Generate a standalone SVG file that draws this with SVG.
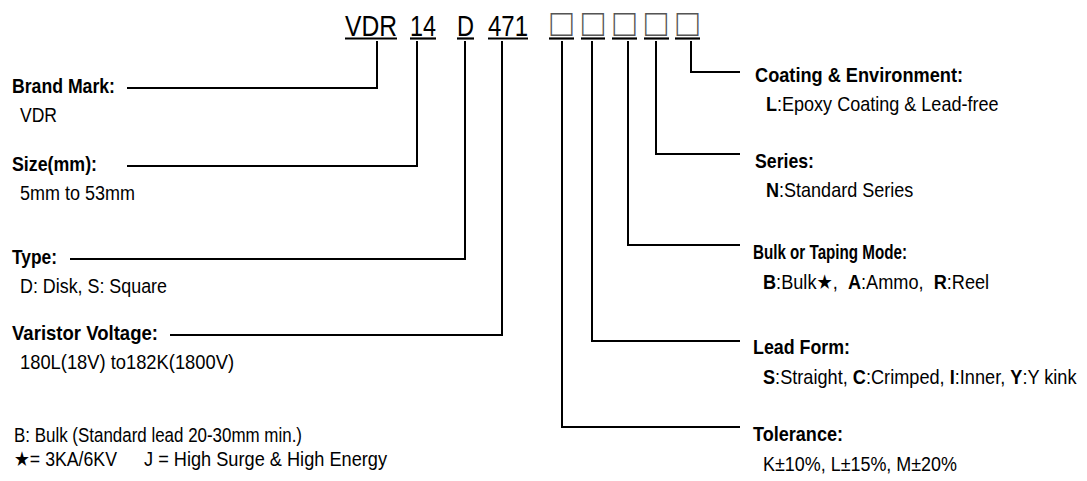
<svg xmlns="http://www.w3.org/2000/svg" width="1087" height="481" viewBox="0 0 1087 481">
<style>
text{font-family:"Liberation Sans","DejaVu Sans",sans-serif;fill:#000;white-space:pre}
.h{font-size:20.5px;font-weight:bold}
.b{font-size:20.5px}
.c{font-size:29px}
.bx{font-size:38px;fill:#555}
.k{font-weight:bold}
.conn path{fill:none;stroke:#000;stroke-width:2}
.ul{stroke:#000;stroke-width:2.2}
</style>
<rect width="1087" height="481" fill="#fff"/>
<g id="code">
  <text class="c" x="345" y="36" textLength="52" lengthAdjust="spacingAndGlyphs">VDR</text>
  <text class="c" x="410" y="36" textLength="26" lengthAdjust="spacingAndGlyphs">14</text>
  <text class="c" x="457" y="36" textLength="17" lengthAdjust="spacingAndGlyphs">D</text>
  <text class="c" x="488" y="36" textLength="40" lengthAdjust="spacingAndGlyphs">471</text>
  <text class="bx" x="550.5" y="36" textLength="22" lengthAdjust="spacingAndGlyphs">□</text>
  <text class="bx" x="582" y="36" textLength="22" lengthAdjust="spacingAndGlyphs">□</text>
  <text class="bx" x="613.5" y="36" textLength="22" lengthAdjust="spacingAndGlyphs">□</text>
  <text class="bx" x="645" y="36" textLength="22" lengthAdjust="spacingAndGlyphs">□</text>
  <text class="bx" x="676.5" y="36" textLength="22" lengthAdjust="spacingAndGlyphs">□</text>
  <line class="ul" x1="345" y1="38.5" x2="397" y2="38.5"/>
  <line class="ul" x1="410" y1="38.5" x2="436" y2="38.5"/>
  <line class="ul" x1="457" y1="38.5" x2="474" y2="38.5"/>
  <line class="ul" x1="488" y1="38.5" x2="528" y2="38.5"/>
  <line class="ul" x1="549" y1="38.5" x2="574" y2="38.5"/>
  <line class="ul" x1="581" y1="38.5" x2="605" y2="38.5"/>
  <line class="ul" x1="612" y1="38.5" x2="637" y2="38.5"/>
  <line class="ul" x1="644" y1="38.5" x2="669" y2="38.5"/>
  <line class="ul" x1="675" y1="38.5" x2="700" y2="38.5"/>
</g>
<g id="brand">
  <text class="h" x="12" y="93" textLength="103" lengthAdjust="spacingAndGlyphs">Brand Mark:</text>
  <text class="b" x="20" y="122" textLength="37" lengthAdjust="spacingAndGlyphs">VDR</text>
</g>
<g id="size">
  <text class="h" x="12" y="171" textLength="85" lengthAdjust="spacingAndGlyphs">Size(mm):</text>
  <text class="b" x="20" y="200" textLength="115" lengthAdjust="spacingAndGlyphs">5mm to 53mm</text>
</g>
<g id="type">
  <text class="h" x="12" y="264" textLength="45" lengthAdjust="spacingAndGlyphs">Type:</text>
  <text class="b" x="20" y="293" textLength="147" lengthAdjust="spacingAndGlyphs">D: Disk, S: Square</text>
</g>
<g id="voltage">
  <text class="h" x="12" y="340" textLength="146" lengthAdjust="spacingAndGlyphs">Varistor Voltage:</text>
  <text class="b" x="20" y="369" textLength="214" lengthAdjust="spacingAndGlyphs">180L(18V) to182K(1800V)</text>
</g>
<g id="notes">
  <text class="b" x="14" y="442" textLength="288" lengthAdjust="spacingAndGlyphs">B: Bulk (Standard lead 20-30mm min.)</text>
  <text class="b" x="14" y="466" textLength="103" lengthAdjust="spacingAndGlyphs">★= 3KA/6KV</text>
  <text class="b" x="144" y="466" textLength="243" lengthAdjust="spacingAndGlyphs">J = High Surge &amp; High Energy</text>
</g>
<g id="coating">
  <text class="h" x="755" y="82" textLength="208" lengthAdjust="spacingAndGlyphs">Coating &amp; Environment:</text>
  <text class="b" transform="translate(766,111) scale(0.88,1)"><tspan class="k">L</tspan>:Epoxy Coating &amp; Lead-free</text>
</g>
<g id="series">
  <text class="h" x="755" y="168" textLength="59" lengthAdjust="spacingAndGlyphs">Series:</text>
  <text class="b" transform="translate(766,197) scale(0.88,1)"><tspan class="k">N</tspan>:Standard Series</text>
</g>
<g id="taping">
  <text class="h" x="753" y="259" textLength="154" lengthAdjust="spacingAndGlyphs">Bulk or Taping Mode:</text>
  <text class="b" transform="translate(763,289) scale(0.886,1)"><tspan class="k">B</tspan>:Bulk★,  <tspan class="k">A</tspan>:Ammo,  <tspan class="k">R</tspan>:Reel</text>
</g>
<g id="leadform">
  <text class="h" x="753" y="354" textLength="97" lengthAdjust="spacingAndGlyphs">Lead Form:</text>
  <text class="b" transform="translate(763,384) scale(0.886,1)"><tspan class="k">S</tspan>:Straight, <tspan class="k">C</tspan>:Crimped, <tspan class="k">I</tspan>:Inner, <tspan class="k">Y</tspan>:Y kink</text>
</g>
<g id="tolerance">
  <text class="h" x="753" y="441" textLength="90" lengthAdjust="spacingAndGlyphs">Tolerance:</text>
  <text class="b" x="763" y="471" textLength="194" lengthAdjust="spacingAndGlyphs">K±10%, L±15%, M±20%</text>
</g>
<g id="connectors" class="conn">
  <path d="M377,41 V88 H127"/>
  <path d="M417,41 V166 H127"/>
  <path d="M465,41 V259 H70"/>
  <path d="M502,41 V335 H170"/>
  <path d="M562,41 V427 H740"/>
  <path d="M592,41 V341 H740"/>
  <path d="M628,41 V245 H740"/>
  <path d="M656,41 V154 H740"/>
  <path d="M691,41 V72 H740"/>
</g>
</svg>
